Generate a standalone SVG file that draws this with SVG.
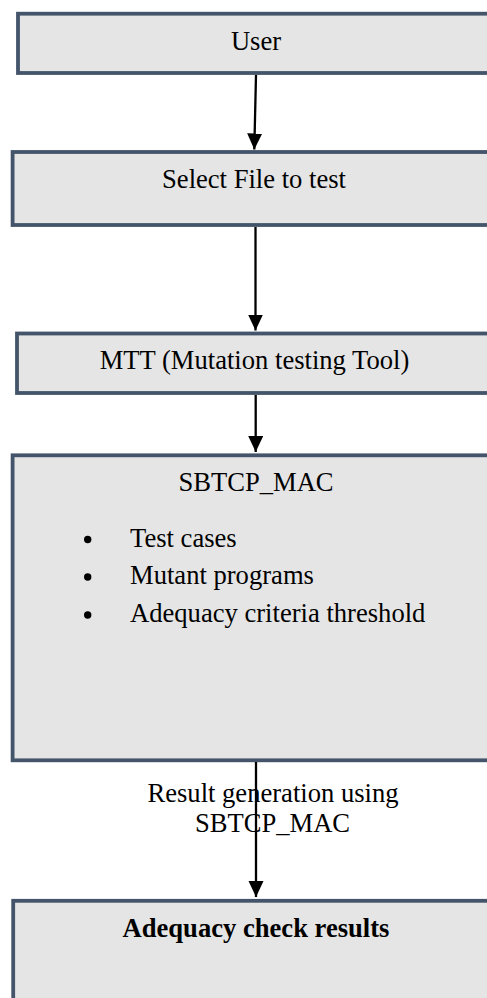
<svg xmlns="http://www.w3.org/2000/svg" width="487" height="998" viewBox="0 0 487 998">
  <style>
    .box { fill: #e5e5e5; stroke: #44546a; stroke-width: 3.8; }
    .lbl { font-family: "Liberation Serif", "Times New Roman", serif; font-size: 26.6px; fill: #000; }
    .mid { text-anchor: middle; }
    .bold { font-weight: bold; }
    .edge { stroke: #000; stroke-width: 2.3; fill: none; marker-end: url(#head); }
  </style>
  <defs>
    <marker id="head" markerUnits="userSpaceOnUse" markerWidth="16" markerHeight="17" refX="16" refY="7.5" orient="auto">
      <path d="M0,0 L16,7.5 L0,15 Z" fill="#000"/>
    </marker>
  </defs>

  <rect width="487" height="998" fill="#fff"/>

  <g id="node-user">
    <rect class="box" x="18" y="13.7" width="490" height="59.3"/>
    <text class="lbl mid" x="256" y="49.5">User</text>
  </g>

  <g id="node-select">
    <rect class="box" x="12.6" y="152" width="495" height="73"/>
    <text class="lbl mid" x="254" y="188">Select File to test</text>
  </g>

  <g id="node-mtt">
    <rect class="box" x="17" y="333.5" width="490" height="59.5"/>
    <text class="lbl mid" x="254.5" y="368.5">MTT (Mutation testing Tool)</text>
  </g>

  <g id="node-sbtcp">
    <rect class="box" x="12.6" y="455.3" width="495" height="305"/>
    <text class="lbl mid" x="256" y="491">SBTCP_MAC</text>
    <circle cx="87.7" cy="539.5" r="3.7"/>
    <circle cx="87.7" cy="577" r="3.7"/>
    <circle cx="87.7" cy="615" r="3.7"/>
    <text class="lbl" x="130" y="546.8">Test cases</text>
    <text class="lbl" x="130" y="584.2">Mutant programs</text>
    <text class="lbl" x="130" y="621.8">Adequacy criteria threshold</text>
  </g>

  <g id="node-results">
    <rect class="box" x="13.2" y="900.8" width="495" height="120"/>
    <text class="lbl mid bold" x="256" y="936.8">Adequacy check results</text>
  </g>

  <g id="connectors">
    <line class="edge" x1="256" y1="75" x2="254.3" y2="149.5"/>
    <line class="edge" x1="255.5" y1="227" x2="255.5" y2="330.5"/>
    <line class="edge" x1="255.7" y1="395" x2="255.7" y2="452"/>
    <line class="edge" x1="256" y1="762" x2="256" y2="897"/>
    <text class="lbl mid" x="273" y="802">Result generation using</text>
    <text class="lbl mid" x="272.5" y="831.8">SBTCP_MAC</text>
  </g>
</svg>
